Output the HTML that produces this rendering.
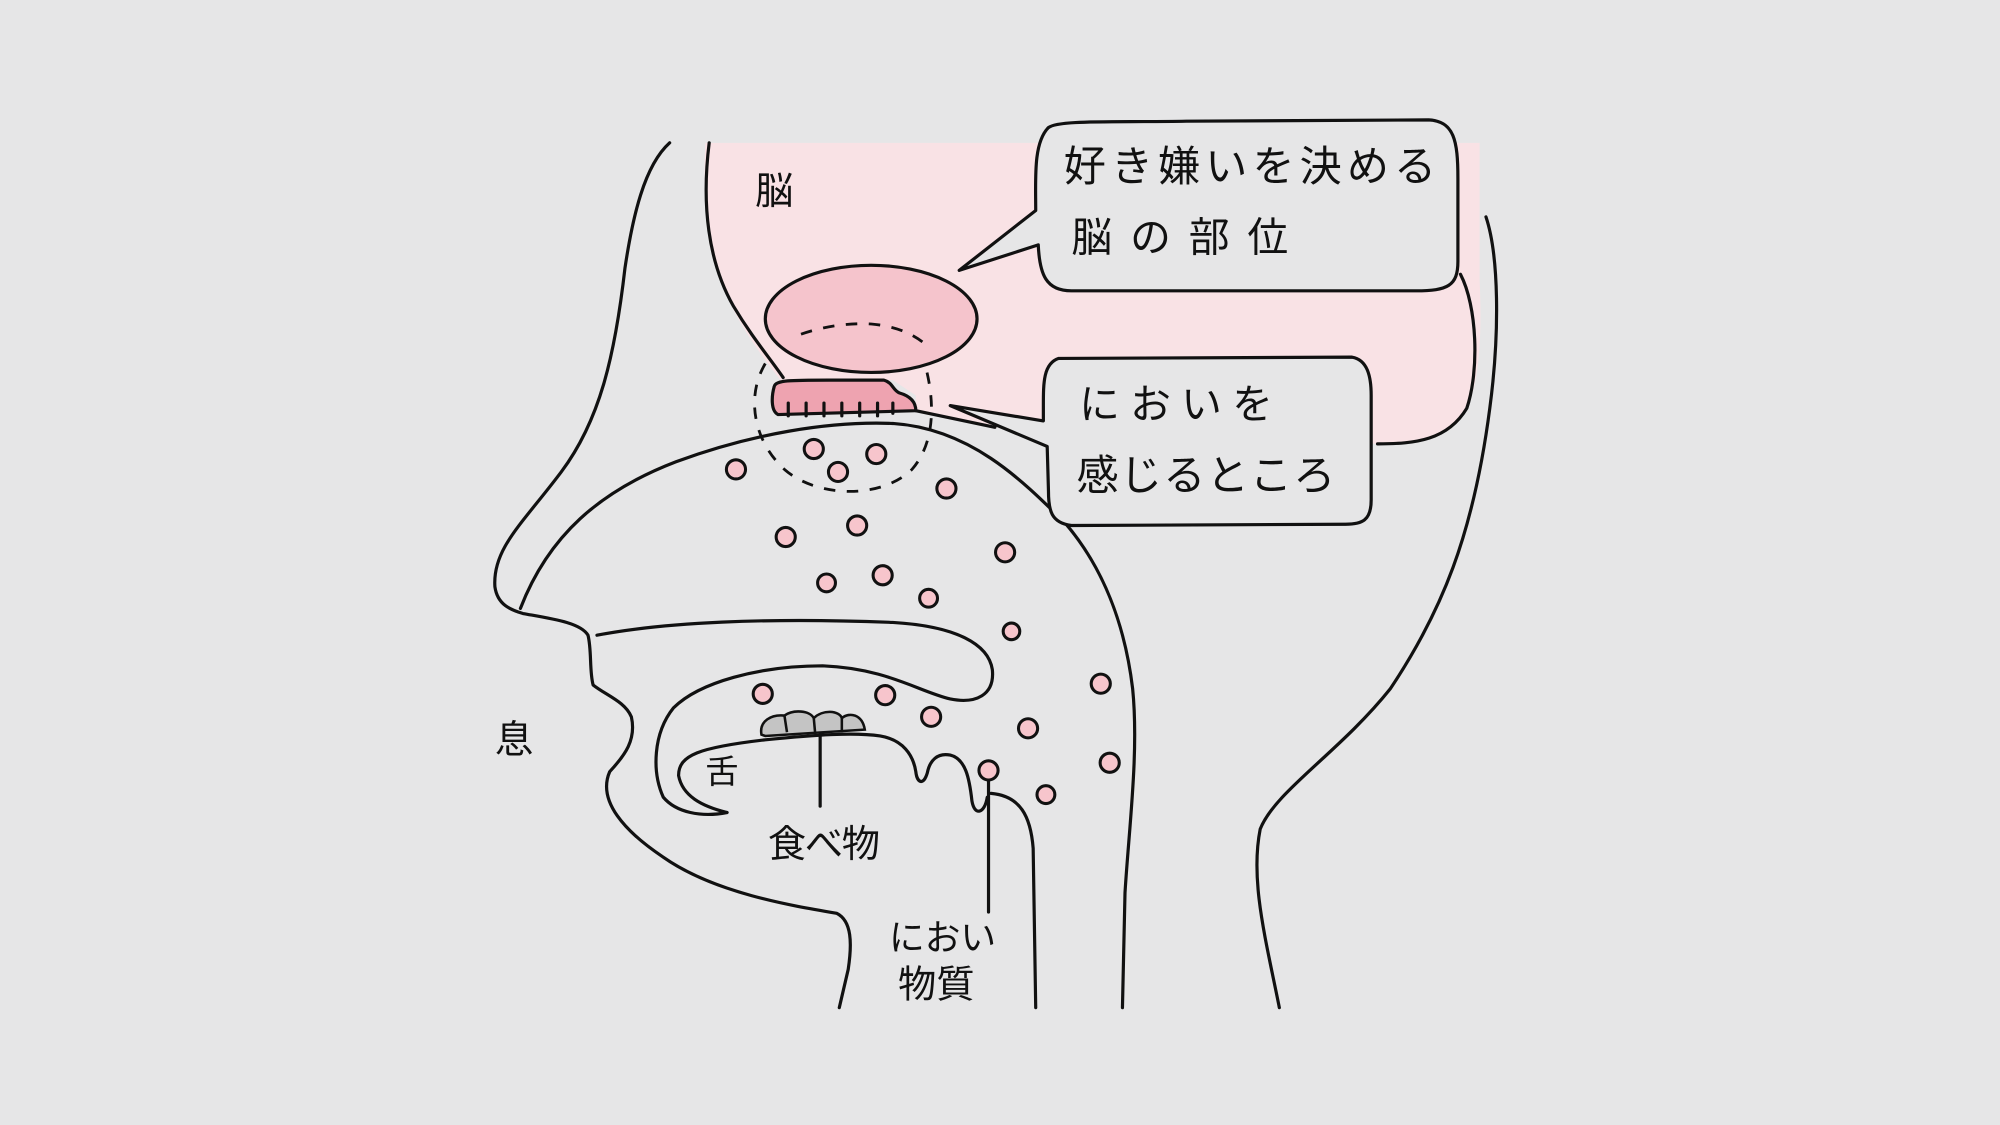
<!DOCTYPE html>
<html><head><meta charset="utf-8"><style>
html,body{margin:0;padding:0;background:#e6e6e7;}
svg{display:block}
text{font-family:"Liberation Sans","Noto Sans CJK JP",sans-serif;fill:#111;}
</style></head><body>
<svg width="2000" height="1125" viewBox="0 0 1568 882" xmlns="http://www.w3.org/2000/svg">
<rect width="1568" height="882" fill="#e6e6e7"/>
<path d="M553,112 L1160,112 L1160,220 C1162,260 1160,300 1150,320 C1135,345 1110,348 1080,348 L780,335 L718,322 L718,310 L700,298 L612,298 C590,270 565,235 556,190 C552,160 552,130 553,112 Z" fill="#f9e2e5"/>
<g fill="none" stroke="#111" stroke-width="2.5" stroke-linecap="round" stroke-linejoin="round">
<path d="M556,112 C550,160 555,205 575,240 C590,265 603,280 614,296"/>
<path d="M1145,215 C1158,240 1160,290 1150,320 C1135,345 1110,348 1080,348"/>
<path d="M718,322 L780,335"/>
<path d="M1165,170 C1175,200 1176,260 1168,320 C1155,420 1130,480 1090,540 C1050,590 1000,620 988,650 C980,690 992,735 1003,790"/>
<path d="M525,112 C505,130 496,170 490,210 C482,280 470,330 440,370 C410,410 386,430 388,460 C390,474 400,478 410,481 C432,485 455,488 461,498 C464,510 462,526 465,537 C475,545 490,550 495,562 C499,580 490,592 478,605 C468,628 490,652 520,672 C560,700 620,710 656,716 C668,722 668,740 665,760 L658,790"/>
<path d="M408,477 C430,420 470,385 530,362 C590,340 650,330 700,332 C760,336 800,375 835,410 C865,445 882,490 888,540 C893,590 885,650 882,700 L880,790"/>
<path d="M468,498 C520,488 600,484 700,488 C750,491 775,505 778,525 C780,545 765,552 745,548 C720,542 695,524 645,522 C595,522 548,535 528,555 C512,575 511,605 520,625 C530,637 550,641 570,637"/>
<path d="M570,637 C550,632 535,624 532,608 C532,592 548,586 600,580 C640,576 670,574 690,577 C708,580 716,592 718,605 C719,614 724,616 727,606 C729,596 735,590 745,592 C757,595 760,610 762,628 C764,640 772,638 774,625"/>
<path d="M777,622 C800,624 808,640 810,665 L812,790"/>
<path d="M643,575 L643,632"/>
<path d="M775,612 L775,715"/>
<path d="M812,165 C812,140 810,112 822,100 C830,94 870,96 930,95 L1120,94 C1140,95 1143,110 1143,140 L1143,205 C1143,224 1135,228 1110,228 L840,228 C820,228 815,215 814,192 L752,212 L812,165 Z" fill="#e6e6e7"/>
<path d="M818,318 C818,300 818,285 830,281 L1060,280 C1072,282 1075,295 1075,310 L1075,392 C1075,408 1068,411 1055,411 L840,412 C824,410 822,400 822,385 L821,350 L745,318 L818,330 Z" fill="#e6e6e7"/>
<ellipse cx="683" cy="250" rx="83" ry="42" fill="#f5c4cc"/>
<path d="M607,303 C608,298 620,298 650,298 L693,298 C700,300 700,306 705,308 C712,310 718,314 718,322 L610,325 C604,322 605,310 607,303 Z" fill="#eea3b0"/>
<path d="M618,316 L618,326 M632,316 L632,326 M646,316 L646,326 M660,316 L660,326 M674,316 L674,326 M688,316 L688,326 M700,316 L700,324"/>
</g>
<g fill="none" stroke="#111" stroke-width="2.2" stroke-dasharray="9,9">
<path d="M628,262 C645,256 665,253 683,254 C705,256 718,263 728,272"/>
<path d="M600,285 C585,310 590,345 615,368 C640,390 690,392 715,368 C735,345 732,310 725,285"/>
</g>
<g fill="#f7c5cc" stroke="#111" stroke-width="2.4">
<circle cx="577" cy="368" r="7.5"/><circle cx="638" cy="352" r="7.5"/><circle cx="687" cy="356" r="7.5"/>
<circle cx="657" cy="370" r="7.5"/><circle cx="742" cy="383" r="7.5"/><circle cx="616" cy="421" r="7.5"/>
<circle cx="672" cy="412" r="7.5"/><circle cx="788" cy="433" r="7.5"/><circle cx="648" cy="457" r="7"/>
<circle cx="692" cy="451" r="7.5"/><circle cx="728" cy="469" r="7"/><circle cx="793" cy="495" r="6.5"/>
<circle cx="863" cy="536" r="7.5"/><circle cx="598" cy="544" r="7.5"/><circle cx="694" cy="545" r="7.5"/>
<circle cx="730" cy="562" r="7.5"/><circle cx="806" cy="571" r="7.5"/><circle cx="870" cy="598" r="7.5"/>
<circle cx="775" cy="604" r="7.5"/><circle cx="820" cy="623" r="7"/>
</g>
<g fill="#c4c4c4" stroke="#111" stroke-width="2">
<path d="M597,576 C595,565 605,560 615,561 C622,556 635,557 638,563 C645,556 658,557 660,563 C666,558 676,560 678,572 L600,577 Z"/>
<path d="M615,561 L617,574 M638,563 L639,574 M660,563 L660,574" fill="none"/>
</g>
<text x="592" y="160" font-size="30" letter-spacing="4">脳</text>
<text x="834" y="142" font-size="33" letter-spacing="4">好き嫌いを決める</text>
<text x="840" y="197" font-size="32" letter-spacing="14">脳の部位</text>
<text x="846" y="328" font-size="32" letter-spacing="8">においを</text>
<text x="844" y="384" font-size="33" letter-spacing="1">感じるところ</text>
<text x="388" y="590" font-size="30">息</text>
<text x="553" y="614" font-size="26">舌</text>
<text x="602" y="672" font-size="30" letter-spacing="-1">食べ物</text>
<text x="697" y="745" font-size="28">におい</text>
<text x="704" y="782" font-size="30">物質</text>
</svg>
</body></html>
